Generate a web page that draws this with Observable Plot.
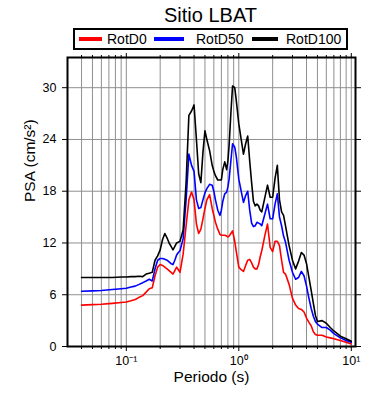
<!DOCTYPE html>
<html><head><meta charset="utf-8">
<script src="https://cdn.jsdelivr.net/npm/d3@7"></script>
<script src="https://cdn.jsdelivr.net/npm/@observablehq/plot@0.6"></script>
<style>
body{margin:0;background:#fff;font-family:"Liberation Sans",Arial,sans-serif;color:#000;}
#head{position:relative;width:390px;height:52px;}
#title{position:absolute;left:0;width:421px;text-align:center;top:3px;font-size:20px;line-height:24px;}
#legend{position:absolute;left:73px;top:28px;width:271px;height:18px;border:2px solid #000;}
.sw{position:absolute;top:7px;height:4px;}
.lb{position:absolute;top:0;font-size:14px;line-height:18px;white-space:nowrap;}
#chart svg{display:block;}
</style>
</head><body>
<div id="head">
  <div id="title">Sitio LBAT</div>
  <div id="legend"></div>
</div>
<div id="chart"></div>
<script>
const periods = [0.04,0.05,0.06,0.075,0.09,0.1,0.11,0.12,0.13,0.14,0.15,0.16,0.17,0.18,0.19,0.2,0.21,0.22,0.23,0.24,0.25,0.26,0.27,0.28,0.29,0.3,0.32,0.34,0.36,0.38,0.4,0.42,0.44,0.46,0.48,0.5,0.52,0.55,0.58,0.6,0.62,0.65,0.68,0.7,0.72,0.75,0.78,0.8,0.82,0.85,0.88,0.92,0.95,1.0,1.05,1.1,1.15,1.2,1.25,1.3,1.35,1.4,1.45,1.5,1.55,1.6,1.7,1.8,1.9,2.0,2.1,2.2,2.3,2.4,2.5,2.6,2.8,3.0,3.2,3.4,3.6,3.8,4.0,4.2,4.4,4.6,4.8,5.0,5.5,6.0,6.5,7.0,8.0,9.0,10];
const rotD100 = [8.0,8.0,8.0,8.0,8.05,8.05,8.1,8.1,8.15,8.1,8.4,8.5,8.6,10.0,10.5,11.2,12.4,13.1,12.6,12.0,11.6,11.2,11.6,12.0,12.1,12.2,13.5,19.0,26.8,27.3,28.0,24.0,20.0,19.0,22.5,25.0,24.0,22.7,21.0,20.3,19.8,19.3,19.3,19.3,20.5,21.4,20.5,21.5,23.3,27.0,30.2,30.0,28.5,25.8,24.0,22.3,23.5,24.4,21.5,19.0,16.8,16.3,16.5,16.3,15.8,15.6,17.2,18.7,17.3,17.3,19.5,21.0,17.0,15.6,15.2,14.0,11.7,10.0,9.0,9.9,10.9,10.6,9.6,8.0,6.5,5.0,3.6,2.9,3.0,2.7,2.2,1.8,1.2,0.9,0.6];
const rotD50 = [6.4,6.45,6.5,6.6,6.7,6.75,6.9,7.0,7.2,7.4,7.6,7.8,7.6,9.0,10.0,10.2,10.2,10.1,10.0,9.8,9.6,9.5,10.0,10.6,10.9,11.1,12.5,17.0,22.3,21.0,20.3,17.0,16.0,16.1,17.0,17.8,18.3,18.8,18.7,18.0,17.0,15.8,15.2,15.8,16.8,17.7,17.9,18.5,19.4,21.5,23.5,23.1,22.0,19.4,18.0,16.7,17.5,18.0,15.8,14.3,13.9,14.0,14.4,14.3,14.2,14.0,15.3,16.5,14.8,14.8,16.5,17.7,15.0,14.0,12.8,12.1,10.0,8.6,7.8,8.0,8.7,8.2,7.0,5.6,4.4,3.5,2.9,2.6,2.2,2.2,1.9,1.5,1.0,0.7,0.5];
const rotD0 = [4.8,4.85,4.9,5.0,5.1,5.15,5.3,5.45,5.7,5.9,6.3,6.7,6.8,8.2,9.2,9.5,9.4,9.2,9.0,8.8,8.6,8.4,8.8,9.2,8.9,8.6,10.7,14.0,17.0,17.9,17.0,14.2,13.1,13.6,14.8,16.0,17.0,17.6,16.0,15.2,14.4,13.6,13.0,12.9,12.9,12.9,12.8,12.7,12.8,13.1,13.4,12.2,11.0,9.2,8.9,8.7,9.4,10.0,10.1,9.7,9.2,9.0,9.0,9.5,10.4,11.1,12.8,14.2,11.5,11.0,12.2,12.2,11.7,10.0,8.6,8.4,7.2,5.6,4.8,4.4,4.3,4.0,3.3,2.8,2.4,1.7,1.4,1.3,1.3,1.1,1.0,0.9,0.7,0.5,0.3];

const seriesNames = ["RotD0","RotD50","RotD100"];
const seriesColors = ["#ff0000","#0000ff","#000000"];
const xMajorTicks = [0.1, 1, 10];
const xTickLabels = ["10\u207B\u00B9","10\u2070","10\u00B9"];
const xMinorTicks = [0.04,0.05,0.06,0.07,0.08,0.09,0.2,0.3,0.4,0.5,0.6,0.7,0.8,0.9,2,3,4,5,6,7,8,9];
const yTicks = [0,6,12,18,24,30];
const yGrid = [6,12,18,24,30];
const titleText = "Sitio LBAT";
const xLabel = "Periodo (s)";
const yLabel = "PSA (cm/s\u00B2)";

document.getElementById("title").textContent = titleText;
// legend
const legendPos = [{sw:4,sww:23,lb:32},{sw:79,sww:30,lb:121},{sw:177,sww:26,lb:211}];
const leg = document.getElementById("legend");
seriesNames.forEach((n,i)=>{
  const s = document.createElement("div"); s.className="sw";
  s.style.left = legendPos[i].sw+"px"; s.style.width = legendPos[i].sww+"px"; s.style.background = seriesColors[i];
  const l = document.createElement("div"); l.className="lb"; l.style.left = legendPos[i].lb+"px"; l.textContent = n;
  leg.appendChild(s); leg.appendChild(l);
});

const table = periods.map((p,i)=>({period:p, rotD0:rotD0[i], rotD50:rotD50[i], rotD100:rotD100[i]}));
const gridX = [...xMinorTicks, ...xMajorTicks];
const keys = ["rotD0","rotD50","rotD100"];

const chart = Plot.plot({
  width: 390, height: 348,
  marginTop: 5, marginLeft: 67, marginRight: 35, marginBottom: 54,
  x: {type: "log", domain: [0.03, 10.9]},
  y: {domain: [0, 33.5]},
  style: {fontFamily: '"Liberation Sans", Arial, sans-serif', fontSize: "12.5px", color: "#000", background: "#fff", overflow: "visible"},
  marks: [
    Plot.ruleX(gridX, {stroke: "#8f8f8f", strokeWidth: 1}),
    Plot.ruleY(yGrid, {stroke: "#8f8f8f", strokeWidth: 1}),
    ...keys.map((k,i)=>Plot.line(table, {x: "period", y: k, stroke: seriesColors[i], strokeWidth: 1.6})),
    Plot.frame({stroke: "#000", strokeWidth: 2}),
    Plot.axisX(xMinorTicks, {anchor: "bottom", tickSize: 3, tickFormat: () => "", label: null}),
    Plot.axisX(xMajorTicks, {anchor: "bottom", tickSize: 5, tickPadding: 5, tickFormat: d => xTickLabels[xMajorTicks.indexOf(d)], label: null}),
    Plot.axisX(xMinorTicks, {anchor: "top", tickSize: 3, tickFormat: () => "", label: null}),
    Plot.axisX(xMajorTicks, {anchor: "top", tickSize: 5, tickFormat: () => "", label: null}),
    Plot.axisY(yTicks, {anchor: "left", tickSize: 5, tickPadding: 6, label: null}),
    Plot.axisY(yTicks, {anchor: "right", tickSize: 5, tickFormat: () => "", label: null}),
    Plot.text([yLabel], {text: d => d, frameAnchor: "left", dx: -37, rotate: -90, fontSize: 15.5}),
    Plot.text([xLabel], {text: d => d, frameAnchor: "bottom", dy: 35, fontSize: 15.5})
  ]
});
document.getElementById("chart").appendChild(chart);
</script>
</body></html>
